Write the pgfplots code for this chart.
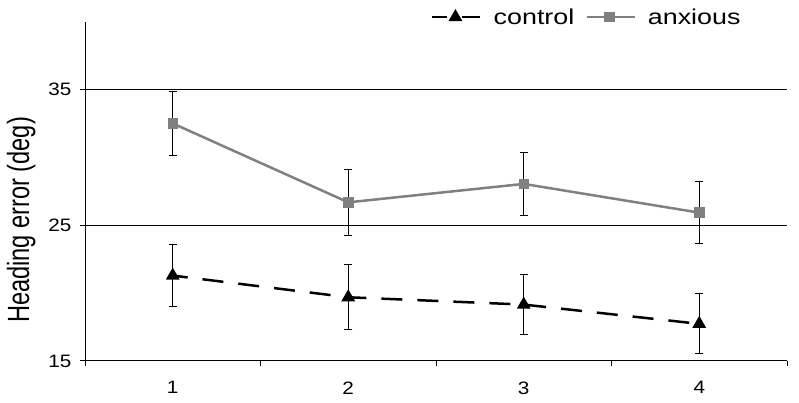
\documentclass[border=0pt]{standalone}
\usepackage{fontspec}
\setmainfont{Liberation Sans}
\usepackage{pgfplots}
\pgfplotsset{compat=1.18}
\definecolor{anxgray}{RGB}{128,128,128}
\begin{document}
\begin{tikzpicture}
\begin{axis}[
  name=ax,
  scale only axis,
  width=702pt, height=339pt,
  xmin=0.5, xmax=4.5, ymin=15, ymax=40,
  axis x line*=bottom, axis y line*=left,
  axis line style={black, line width=1pt},
  xtick={1,2,3,4},
  minor xtick={0.5,1.5,2.5,3.5,4.5},
  ytick={15,25,35},
  tick align=outside,
  major tick length=5pt, minor tick length=5pt,
  major x tick style={draw=none},
  minor x tick style={black, line width=1pt},
  major y tick style={black, line width=1pt},
  ymajorgrids,
  grid style={black, line width=1pt},
  /pgf/number format/assume math mode=true,
  xticklabel={\scalebox{1.15}[1]{\pgfmathprintnumber{\tick}}},
  yticklabel={\scalebox{1.15}[1]{\pgfmathprintnumber{\tick}}},
  xticklabel style={font=\fontsize{18}{18}\selectfont, yshift=-12pt},
  yticklabel style={font=\fontsize{18}{18}\selectfont, xshift=-5pt},
  ylabel={\scalebox{1}[1.3]{Heading error (deg)}},
  every axis y label/.style={at={(axis description cs:-0.091,0.416)}, rotate=90, anchor=center,
    font=\fontsize{23.6}{24}\selectfont},
  legend columns=2,
  legend style={at={(axis description cs:0.4886,1.0147)}, anchor=west, draw=none, fill=none,
    font=\fontsize{21.5}{22}\selectfont,
    /tikz/every odd column/.append style={column sep=10pt},
    /tikz/every even column/.append style={column sep=9pt}},
  legend image code/.code={
    \draw[mark repeat=2, mark phase=2, #1] plot coordinates {(0pt,0pt) (23pt,0pt) (48pt,0pt)};
  },
  clip=false,
]
\addplot[black, line width=2.5pt, dash pattern=on 21pt off 15pt, dash phase=6pt,
  mark=triangle*, mark size=5.5pt, mark options={solid, fill=black},
  error bars/.cd, y dir=both, y explicit,
  error bar style={black, line width=1pt, solid},
  error mark options={rotate=90, mark size=4pt, black, line width=1pt}]
  coordinates {
  (1,21.30) +- (0,2.28)
  (2,19.70) +- (0,2.40)
  (3,19.16) +- (0,2.24)
  (4,17.74) +- (0,2.21)
};
\addlegendentry{\scalebox{1.25}[1]{control}}
\addplot[anxgray, line width=2.5pt,
  mark=square*, mark size=4pt, mark options={fill=anxgray, draw=anxgray},
  error bars/.cd, y dir=both, y explicit,
  error bar style={black, line width=1pt},
  error mark options={rotate=90, mark size=4pt, black, line width=1pt}]
  coordinates {
  (1,32.52) +- (0,2.36)
  (2,26.70) +- (0,2.43)
  (3,28.06) +- (0,2.32)
  (4,25.94) +- (0,2.31)
};
\addlegendentry{\scalebox{1.25}[1]{anxious}}
\end{axis}
\pgfresetboundingbox
\path (ax.south west) ++(-85pt,-42pt) rectangle ++(799pt,403pt);
\end{tikzpicture}
\end{document}
